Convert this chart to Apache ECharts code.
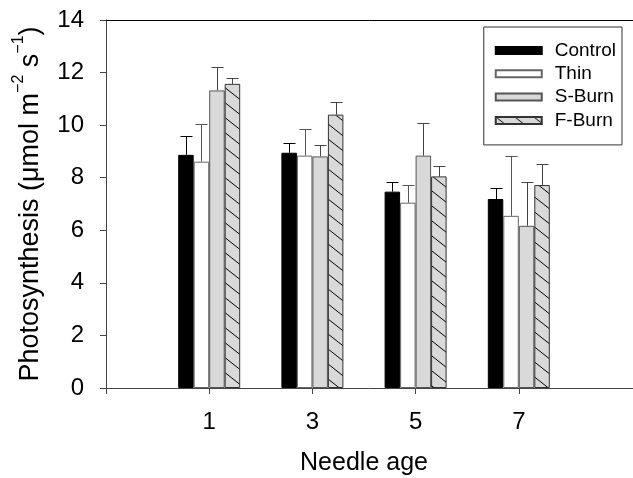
<!DOCTYPE html>
<html>
<head>
<meta charset="utf-8">
<script src="https://cdn.jsdelivr.net/npm/echarts@6/dist/echarts.min.js"></script>
<style>
  html, body { margin: 0; padding: 0; background: #fff; }
  #chart { width: 633px; height: 478px; }
</style>
</head>
<body>
<div id="chart"></div>
<script>
// x categories (padded so the axis starts one step before "1")
const categories = ['', '1', '3', '5', '7', ''];
const seriesNames = ['Control', 'Thin', 'S-Burn', 'F-Burn'];

// means and upper error-bar ends, per needle age 1, 3, 5, 7
const control = [8.87, 8.95, 7.47, 7.19];
const controlTop = [9.58, 9.33, 7.85, 7.60];
const thin = [8.61, 8.84, 7.05, 6.55];
const thinTop = [10.05, 9.87, 7.71, 8.81];
const sBurn = [11.32, 8.81, 8.84, 6.17];
const sBurnTop = [12.21, 9.24, 10.08, 7.82];
const fBurn = [11.57, 10.40, 8.05, 7.72];
const fBurnTop = [11.78, 10.88, 8.43, 8.52];

const yTicks = [0, 2, 4, 6, 8, 10, 12, 14];

const FONT = '"Liberation Sans", Arial, sans-serif';
const BAR_W = 15.5;

// diagonal hatch for F-Burn
function hatch() {
  const c = document.createElement('canvas');
  c.width = 19; c.height = 15;
  const g = c.getContext('2d');
  g.fillStyle = '#d9d9d9';
  g.fillRect(0, 0, 19, 15);
  g.strokeStyle = '#000';
  g.lineWidth = 1;
  [-15, 0, 15].forEach(dy => {
    g.beginPath();
    g.moveTo(-19, -15 + dy);
    g.lineTo(38, 30 + dy);
    g.stroke();
  });
  return c;
}

const pad = arr => ['-', ...arr, '-'];

function errBars(offset, color) {
  return function (params, api) {
    const x = api.value(0);
    const base = api.coord([x, api.value(1)]);
    const top = api.coord([x, api.value(2)]);
    const cx = Math.round(base[0] + offset) + 0.5;
    const ty = Math.round(top[1]) + 0.5;
    return {
      type: 'group',
      children: [
        { type: 'line', shape: { x1: cx, y1: base[1], x2: cx, y2: ty }, style: { stroke: color, lineWidth: 1 } },
        { type: 'line', shape: { x1: cx - 6, y1: ty, x2: cx + 6, y2: ty }, style: { stroke: color, lineWidth: 1 } }
      ]
    };
  };
}

const chart = echarts.init(document.getElementById('chart'));

const styles = [
  { color: '#000', borderColor: '#000', borderWidth: 1 },
  { color: '#fff', borderColor: '#666', borderWidth: 1 },
  { color: '#d9d9d9', borderColor: '#555', borderWidth: 1 },
  { color: { image: hatch(), repeat: 'repeat' }, borderColor: '#333', borderWidth: 1 }
];
const means = [control, thin, sBurn, fBurn];
const tops = [controlTop, thinTop, sBurnTop, fBurnTop];
const errColors = ['#000', '#555', '#444', '#444'];
const offsets = [-1.5, -0.5, 0.5, 1.5].map(k => k * BAR_W);

const series = [];
seriesNames.forEach((name, i) => {
  series.push({
    name: name,
    type: 'bar',
    barWidth: BAR_W,
    barGap: '0%',
    data: pad(means[i]),
    itemStyle: styles[i],
    emphasis: { disabled: true },
    animation: false
  });
});
seriesNames.forEach((name, i) => {
  series.push({
    name: name + ' err',
    type: 'custom',
    renderItem: errBars(offsets[i], errColors[i]),
    data: means[i].map((v, j) => [j + 1, v, tops[i][j]]),
    encode: { x: 0, y: [1, 2] },
    silent: true,
    animation: false
  });
});

chart.setOption({
  backgroundColor: '#fff',
  textStyle: { fontFamily: FONT },
  grid: [
    { left: 106, right: 11, top: 20, bottom: 90, outerBoundsMode: 'none', containLabel: false },
    { left: 106, right: 0, top: 20, bottom: 90, outerBoundsMode: 'none', containLabel: false }
  ],
  legend: {
    data: seriesNames,
    orient: 'vertical',
    right: 11,
    top: 27,
    icon: 'rect',
    itemWidth: 46,
    itemHeight: 7,
    itemGap: 4.3,
    padding: [14, 6, 15, 11],
    borderColor: '#333',
    borderWidth: 1,
    selectedMode: false,
    textStyle: { fontFamily: FONT, fontSize: 19, lineHeight: 19, color: '#000', padding: [0, 0, 0, 8] }
  },
  xAxis: [
    {
      type: 'category',
      gridIndex: 0,
      data: categories,
      boundaryGap: false,
      axisLine: { show: false },
      axisTick: {
        show: true, inside: false, length: 6,
        interval: (idx) => idx < categories.length - 1,
        lineStyle: { color: '#444' }
      },
      axisLabel: { fontFamily: FONT, fontSize: 24, color: '#000', margin: 22 },
      name: 'Needle age',
      nameLocation: 'middle',
      nameGap: 63,
      nameTextStyle: { fontFamily: FONT, fontSize: 25, color: '#000' }
    },
    {
      type: 'value', gridIndex: 1, position: 'bottom', min: 0, max: 1,
      axisLine: { show: true, lineStyle: { color: '#444' } },
      axisTick: { show: false }, axisLabel: { show: false }, splitLine: { show: false }
    },
    {
      type: 'value', gridIndex: 1, position: 'top', min: 0, max: 1,
      axisLine: { show: true, lineStyle: { color: '#000' } },
      axisTick: { show: false }, axisLabel: { show: false }, splitLine: { show: false }
    }
  ],
  yAxis: [
    {
      type: 'value',
      gridIndex: 0,
      min: yTicks[0],
      max: yTicks[yTicks.length - 1],
      interval: 2,
      axisLine: { show: true, lineStyle: { color: '#444' } },
      axisTick: { show: true, inside: false, length: 6, lineStyle: { color: '#444' } },
      splitLine: { show: false },
      axisLabel: { fontFamily: FONT, fontSize: 24, color: '#000', margin: 22 },
      name: '{t|Photosynthesis (μmol m}{s|−2}{t| s}{s|−1}{t|)}',
      nameLocation: 'middle',
      nameGap: 62,
      nameTextStyle: {
        fontFamily: FONT,
        color: '#000',
        rich: {
          t: { fontFamily: FONT, fontSize: 27, lineHeight: 33, verticalAlign: 'bottom', color: '#000' },
          s: { fontFamily: FONT, fontSize: 16, lineHeight: 16, verticalAlign: 'top', color: '#000' }
        }
      }
    },
    { type: 'value', gridIndex: 1, show: false, min: 0, max: 1 }
  ],
  series: series
});
</script>
</body>
</html>
